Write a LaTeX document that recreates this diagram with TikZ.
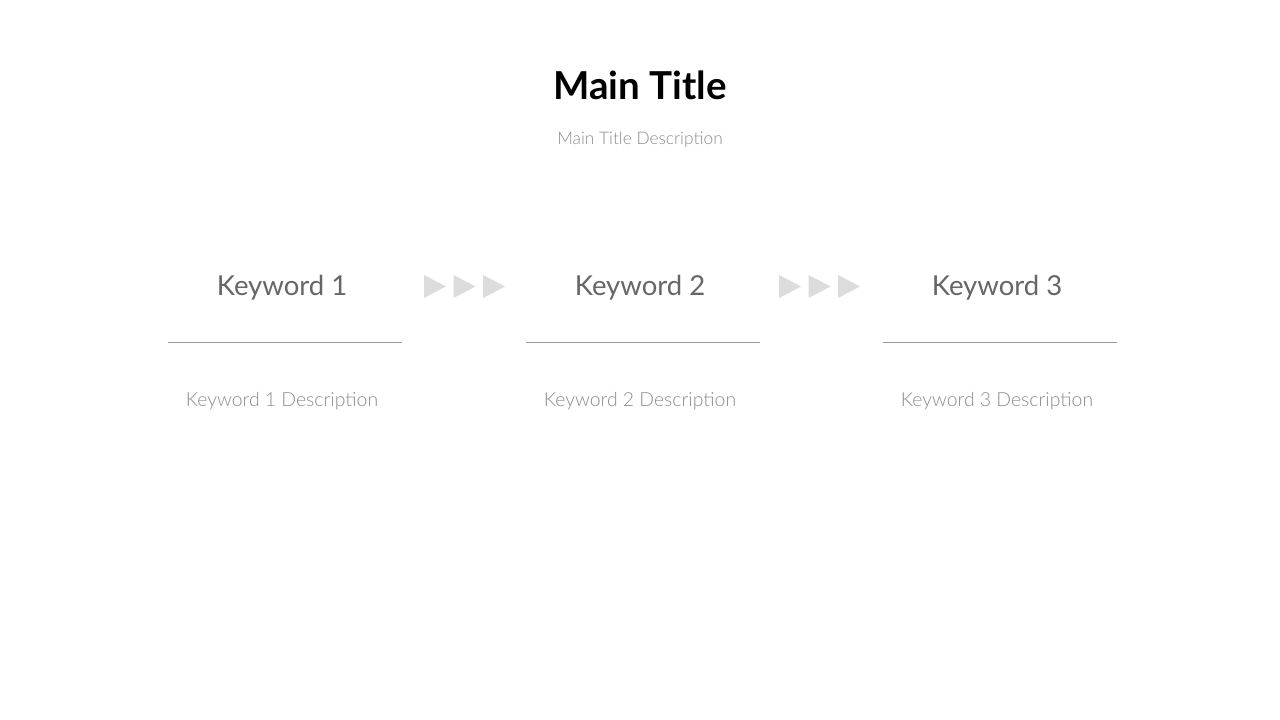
\documentclass[tikz,border=0pt]{standalone}
\usepackage{fontspec}
\setmainfont{Lato}
\newfontfamily\lightf{Lato Light}
\definecolor{kwgray}{HTML}{666666}
\definecolor{descgray}{HTML}{8C8C8C}
\definecolor{linegray}{HTML}{999999}
\definecolor{trigray}{HTML}{DCDCDC}
\tikzset{
  title/.style={font=\fontsize{38.5}{42}\selectfont\bfseries, text=black, inner sep=0pt},
  subtitle/.style={font=\lightf\fontsize{17.3}{20}\selectfont, text=descgray, inner sep=0pt},
  keyword/.style={font=\fontsize{27.5}{32}\selectfont, text=kwgray, inner sep=0pt},
  kwdesc/.style={font=\lightf\fontsize{19.4}{22}\selectfont, text=descgray, inner sep=0pt},
  sepline/.style={draw=linegray, line width=1pt},
  tri/.style={fill=trigray, draw=none}
}
\begin{document}
\begin{tikzpicture}[x=1pt,y=-1pt]
\useasboundingbox[fill=white] (0,0) rectangle (1280,720);
\node[title] (t) at (640,85) {Main Title};
\node[subtitle] (st) at (640,140) {Main Title Description};
\foreach \i/\x in {1/282,2/640,3/997}{
  \node[keyword] (k\i) at (\x,288) {Keyword \i};
  \coordinate (la\i) at (\x-114,342);
  \coordinate (lb\i) at (\x+120,342);
  \draw[sepline] (la\i) -- (lb\i);
  \node[kwdesc] (d\i) at (\x,401.5) {Keyword \i{} Description};
}
\foreach \x in {424,453.5,483,779,808.5,838}{
  \fill[tri] (\x,275) -- (\x+22,286.5) -- (\x,298) -- cycle;
}
\end{tikzpicture}
\end{document}
